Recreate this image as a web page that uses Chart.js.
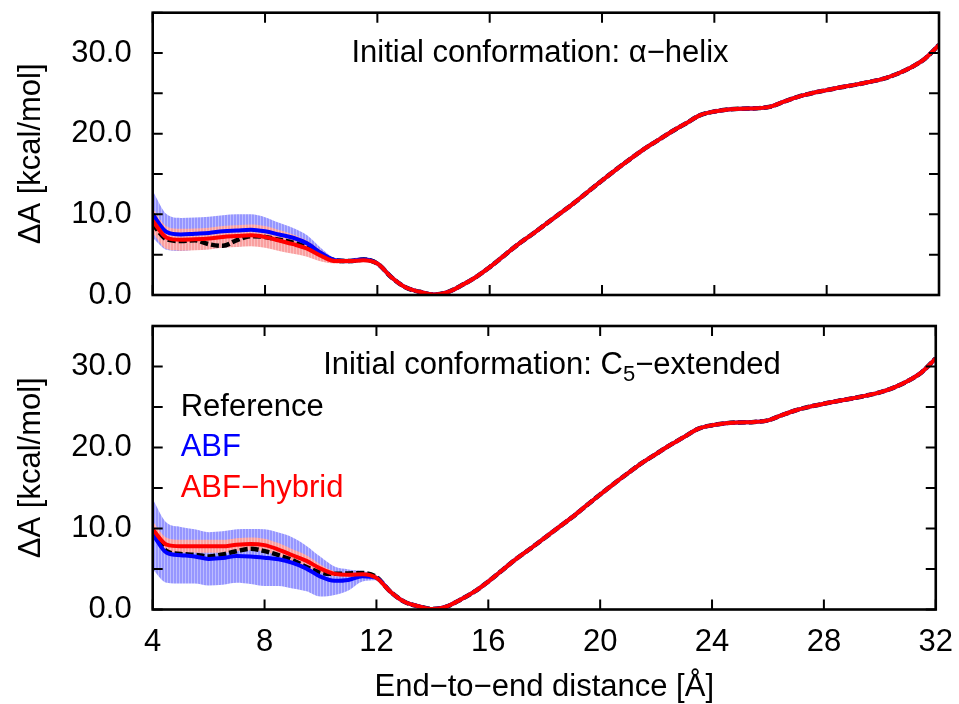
<!DOCTYPE html>
<html><head><meta charset="utf-8">
<script src="https://cdn.jsdelivr.net/npm/chart.js@4.4.1/dist/chart.umd.min.js"></script>
<style>
html,body{margin:0;padding:0;background:#fff;width:959px;height:704px;overflow:hidden}
canvas{position:absolute;left:0}
#c1{top:0}
#c2{top:310px}
</style></head><body>
<canvas id="c1" width="959" height="318"></canvas>
<canvas id="c2" width="959" height="394"></canvas>
<script>
// ---------- data ----------
const distance = [4,4.5,5,5.5,6,6.5,7,7.5,8,8.5,9,9.5,10,10.5,11,11.5,12,12.5,13,13.5,14,14.5,15,15.5,16,16.5,17,17.5,18,18.5,19,19.5,20,20.5,21,21.5,22,22.5,23,23.5,24,24.5,25,25.5,26,26.5,27,27.5,28,28.5,29,29.5,30,30.5,31,31.5,32];
const xTickValues = [4,8,12,16,20,24,28,32];
const yTickValues = [0,10,20,30];
const legendLabels = ['Reference','ABF','ABF\u2212hybrid'];

// common part of all curves (12.5 .. 32 Å), where every curve coincides
const tailPMF = [2.2,0.95,0.4,0.05,0.35,1.2,2.2,3.45,4.85,6.25,7.5,8.8,10.1,11.4,12.8,14.2,15.55,16.85,18.1,19.2,20.3,21.3,22.3,22.75,23.0,23.1,23.15,23.35,24.0,24.6,25.05,25.4,25.75,26.05,26.4,26.8,27.4,28.2,29.3,31.0];
const tailErrABF = [0.2,0.15,0.12,0.12,0.12,0.12,0.12,0.12,0.12,0.12,0.12,0.12,0.12,0.12,0.12,0.12,0.12,0.12,0.12,0.12,0.12,0.12,0.12,0.12,0.12,0.12,0.12,0.12,0.12,0.12,0.12,0.12,0.12,0.12,0.12,0.12,0.12,0.12,0.12,0.12];
const tailErrHybrid = [0.1,0.08,0.06,0.06,0.06,0.06,0.06,0.06,0.06,0.06,0.06,0.06,0.06,0.06,0.06,0.06,0.06,0.06,0.06,0.06,0.06,0.06,0.06,0.06,0.06,0.06,0.06,0.06,0.06,0.06,0.06,0.06,0.06,0.06,0.06,0.06,0.06,0.06,0.06,0.06];

// 4 .. 12 Å, panel 1 (alpha-helix)
const helixReferenceLow = [8.8,6.9,6.7,6.8,6.3,6.1,6.8,7.3,7.2,6.85,6.5,5.9,5.0,4.3,4.2,4.4,3.9];
const helixABFLow       = [10.0,7.8,7.5,7.6,7.7,7.9,8.0,8.1,7.9,7.5,7.1,6.4,5.2,4.3,4.2,4.4,3.9];
const helixHybridLow    = [9.2,7.1,6.85,6.9,7.0,7.2,7.3,7.4,7.2,6.75,6.3,5.75,4.85,4.2,4.2,4.3,3.9];
const helixABFErrLow    = [2.9,2.2,2.05,2.0,2.0,2.0,2.0,1.9,1.75,1.45,1.2,1.0,0.6,0.3,0.3,0.3,0.25];
const helixHybridErrLow = [1.5,1.4,1.35,1.35,1.35,1.35,1.35,1.35,1.35,1.3,1.2,1.0,0.7,0.3,0.25,0.2,0.15];

// 4 .. 12 Å, panel 2 (C5-extended)
const extReferenceLow = [9.7,7.2,6.85,6.75,6.55,6.8,7.2,7.5,7.2,6.7,6.1,5.25,4.55,4.4,4.45,4.5,4.0];
const extABFLow       = [9.3,7.0,6.7,6.55,6.25,6.35,6.6,6.55,6.4,6.2,5.75,5.05,4.05,3.55,3.65,4.1,3.9];
const extHybridLow    = [9.9,8.0,7.8,7.8,7.8,7.8,8.0,8.1,7.95,7.4,6.7,6.0,5.05,4.4,4.3,4.35,3.9];
const extABFErrLow    = [4.35,3.7,3.5,3.35,3.3,3.3,3.3,3.4,3.5,3.3,3.15,2.8,2.45,1.75,1.3,0.65,0.3];
const extHybridErrLow = [1.0,0.85,0.8,0.8,0.8,0.8,0.8,0.8,0.8,0.8,0.75,0.7,0.5,0.3,0.2,0.15,0.12];

const helixReference = helixReferenceLow.concat(tailPMF);
const helixABF = helixABFLow.concat(tailPMF);
const helixHybrid = helixHybridLow.concat(tailPMF);
const helixABFErr = helixABFErrLow.concat(tailErrABF);
const helixHybridErr = helixHybridErrLow.concat(tailErrHybrid);
const extReference = extReferenceLow.concat(tailPMF);
const extABF = extABFLow.concat(tailPMF);
const extHybrid = extHybridLow.concat(tailPMF);
const extABFErr = extABFErrLow.concat(tailErrABF);
const extHybridErr = extHybridErrLow.concat(tailErrHybrid);

// ---------- drawing ----------
const FONT = '"Liberation Sans", Arial, Helvetica, sans-serif';
const FS = 31;

function stripes(c1, c2) {
  const c = document.createElement('canvas'); c.width = 3; c.height = 4;
  const g = c.getContext('2d');
  g.fillStyle = c1; g.fillRect(0, 0, 2, 4);
  g.fillStyle = c2; g.fillRect(2, 0, 1, 4);
  return g.createPattern(c, 'repeat');
}
const blueBand = stripes('rgb(150,150,255)', 'rgb(188,188,255)');
const redBand = stripes('rgb(249,160,160)', 'rgb(252,190,190)');

const pts = ys => distance.map((x, i) => ({x, y: ys[i]}));
const bandPts = (ys, err, s) => distance.map((x, i) => ({x, y: ys[i] + s * err[i]}));

function datasets(ref, abf, hyb, abfErr, hybErr) {
  const line = {pointRadius: 0, cubicInterpolationMode: 'monotone', fill: false};
  return [
    {...line, label: legendLabels[2], data: pts(hyb), borderColor: '#ff0000', borderWidth: 4, order: 0},
    {...line, label: legendLabels[1], data: pts(abf), borderColor: '#0000ff', borderWidth: 4, order: 1},
    {...line, label: legendLabels[0], data: pts(ref), borderColor: '#000000', borderWidth: 4.5, borderDash: [8, 3], order: 2},
    {...line, label: 'hybrid+', data: bandPts(hyb, hybErr, 1), borderWidth: 0, borderColor: 'rgba(0,0,0,0)', backgroundColor: redBand, fill: '+1', order: 3},
    {...line, label: 'hybrid-', data: bandPts(hyb, hybErr, -1), borderWidth: 0, borderColor: 'rgba(0,0,0,0)', order: 4},
    {...line, label: 'abf+', data: bandPts(abf, abfErr, 1), borderWidth: 0, borderColor: 'rgba(0,0,0,0)', backgroundColor: blueBand, fill: '+1', order: 5},
    {...line, label: 'abf-', data: bandPts(abf, abfErr, -1), borderWidth: 0, borderColor: 'rgba(0,0,0,0)', order: 6}
  ];
}

const framePlugin = {
  id: 'frame',
  afterDraw(chart) {
    const {ctx, chartArea: a, scales: {x, y}} = chart;
    ctx.save();
    ctx.strokeStyle = '#000';
    ctx.lineWidth = 2;
    ctx.beginPath();
    x.ticks.forEach(t => {
      const px = x.getPixelForValue(t.value);
      ctx.moveTo(px, a.bottom); ctx.lineTo(px, a.bottom - 10);
      ctx.moveTo(px, a.top); ctx.lineTo(px, a.top + 10);
    });
    y.ticks.forEach(t => {
      const py = y.getPixelForValue(t.value);
      ctx.moveTo(a.left, py); ctx.lineTo(a.left + 10, py);
      ctx.moveTo(a.right, py); ctx.lineTo(a.right - 10, py);
    });
    ctx.stroke();
    ctx.lineWidth = 2.6;
    ctx.strokeRect(a.left, a.top, a.right - a.left, a.bottom - a.top);
    ctx.restore();
  }
};

const textPlugin = {
  id: 'panelText',
  afterDraw(chart, args, opts) {
    const {ctx, scales: {x, y}} = chart;
    ctx.save();
    ctx.textBaseline = 'middle';
    ctx.textAlign = 'left';
    ctx.fillStyle = '#000';
    const segs = opts.title;
    let total = 0;
    segs.forEach(s => { ctx.font = (s.sub ? 22 : FS) + 'px ' + FONT; s.w = ctx.measureText(s.t).width; total += s.w; });
    let cx = opts.titleX - total / 2;
    const ty = y.getPixelForValue(30) + opts.titleDy;
    segs.forEach(s => {
      ctx.font = (s.sub ? 22 : FS) + 'px ' + FONT;
      ctx.fillText(s.t, cx, ty + (s.sub ? 9 : 0));
      cx += s.w;
    });
    if (opts.legend) {
      const ds = chart.data.datasets;
      const entries = [ds[2], ds[1], ds[0]];
      const levels = [25, 20, 15];
      ctx.font = FS + 'px ' + FONT;
      entries.forEach((d, i) => {
        ctx.fillStyle = d.borderColor;
        ctx.fillText(d.label, x.getPixelForValue(5), y.getPixelForValue(levels[i]));
      });
    }
    ctx.restore();
  }
};

function makeChart(id, ds, isBottom, titleSegs, titleX) {
  const H = isBottom ? 394 : 318;
  const areaTop = isBottom ? 16 : 12.7;
  const areaBottom = isBottom ? 299.5 : 295;
  return new Chart(document.getElementById(id), {
    type: 'line',
    data: {datasets: ds},
    options: {
      responsive: false, animation: false, events: [],
      devicePixelRatio: 1,
      layout: {padding: {left: 0, right: 20, top: areaTop, bottom: 0}},
      plugins: {
        legend: {display: false}, tooltip: {enabled: false},
        panelText: {title: titleSegs, titleX: titleX, titleDy: isBottom ? -1 : 0, legend: isBottom}
      },
      scales: {
        x: {
          type: 'linear', min: 4, max: 32,
          grid: {display: false}, border: {display: false},
          ticks: {display: isBottom, stepSize: 4, padding: 6, color: '#000', font: {family: FONT, size: FS}, maxRotation: 0,
            callback: v => xTickValues.includes(v) ? String(v) : ''},
          title: {display: isBottom, text: 'End\u2212to\u2212end distance [\u00C5]', color: '#000',
            font: {family: FONT, size: FS, lineHeight: 1}, padding: {top: 0, bottom: 1}},
          afterFit: s => { s.height = H - areaBottom; }
        },
        y: {
          type: 'linear', min: 0, max: 35,
          grid: {display: true, drawOnChartArea: false, drawTicks: true, tickLength: 21, tickColor: 'rgba(0,0,0,0)'},
          border: {display: false},
          ticks: {stepSize: 5, padding: 0, color: '#000', font: {family: FONT, size: FS, lineHeight: 0.8},
            callback: v => yTickValues.includes(v) ? v.toFixed(1) : ''},
          title: {display: true, text: '\u0394A [kcal/mol]', color: '#000',
            font: {family: FONT, size: FS, lineHeight: 1}, padding: {top: 15.6, bottom: 0}},
          afterFit: s => { s.width = 152.7; }
        }
      }
    },
    plugins: [framePlugin, textPlugin]
  });
}

makeChart('c1', datasets(helixReference, helixABF, helixHybrid, helixABFErr, helixHybridErr), false,
  [{t: 'Initial conformation: \u03B1\u2212helix'}], 540);
makeChart('c2', datasets(extReference, extABF, extHybrid, extABFErr, extHybridErr), true,
  [{t: 'Initial conformation: C'}, {t: '5', sub: true}, {t: '\u2212extended'}], 552);
</script>
</body></html>
